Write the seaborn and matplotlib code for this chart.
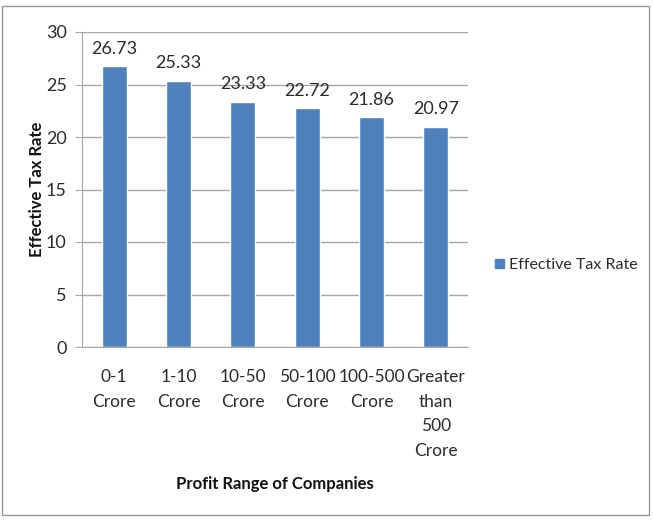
import matplotlib
matplotlib.use("Agg")
import matplotlib.pyplot as plt
import seaborn as sns
import pandas as pd
from matplotlib.patches import Rectangle, Patch

# data
categories = ["0-1\nCrore", "1-10\nCrore", "10-50\nCrore", "50-100\nCrore",
              "100-500\nCrore", "Greater\nthan\n500\nCrore"]
tax_rate = [26.73, 25.33, 23.33, 22.72, 21.86, 20.97]
series_name = "Effective Tax Rate"
y_ticks = [0, 5, 10, 15, 20, 25, 30]

df = pd.DataFrame({"range": categories, "rate": tax_rate})

sns.set_style("white")
plt.rcParams["font.family"] = ["Lato", "DejaVu Sans"]

bar_color = "#4F81BD"
grid_color = "#A6A6A6"
text_color = "#2B2B2B"

fig = plt.figure(figsize=(6.53, 5.21), dpi=100)
ax = fig.add_axes([82 / 653, 1 - 347 / 521, (468 - 82) / 653, (347 - 32) / 521])

sns.barplot(data=df, x="range", y="rate", color=bar_color, width=0.39,
            saturation=1, ax=ax)

ax.set_xlim(-0.5, len(categories) - 0.5)
ax.set_ylim(0, 30)
ax.set_yticks(y_ticks)
ax.yaxis.grid(True, color=grid_color, linewidth=1)
ax.set_axisbelow(True)
for side in ["top", "right"]:
    ax.spines[side].set_visible(False)
ax.spines["left"].set_color(grid_color)
ax.spines["bottom"].set_color(grid_color)
ax.tick_params(axis="y", length=5, color=grid_color, labelsize=13,
               labelcolor=text_color, pad=6, left=True)
ax.tick_params(axis="x", length=0, labelsize=12.5, labelcolor=text_color, pad=16)
for lbl in ax.get_xticklabels():
    lbl.set_linespacing(1.65)
    lbl.set_verticalalignment("top")

for i, v in enumerate(tax_rate):
    ax.annotate(f"{v:.2f}", (i, v), xytext=(0, 7), textcoords="offset points",
                ha="center", va="bottom", fontsize=13, color=text_color)

ax.set_ylabel("Effective Tax Rate", fontsize=12, fontweight="bold",
              color="#111111")
ax.yaxis.set_label_coords(-(82 - 37) / 386, 0.5)
ax.set_xlabel("Profit Range of Companies", fontsize=12, fontweight="bold",
              color="#111111")
ax.xaxis.set_label_coords(0.5, -(484 - 347) / 315)
ax.xaxis.label.set_verticalalignment("center")
ax.yaxis.label.set_verticalalignment("center")

handles = [Patch(color=bar_color, label=series_name)]
fig.legend(handles=handles, loc="center left", bbox_to_anchor=(484 / 653, 1 - 265 / 521),
           frameon=False, fontsize=11.5, handlelength=0.55, handleheight=0.55,
           handletextpad=0.3, borderpad=0.2, labelcolor=text_color)

fig.patches.append(Rectangle((2 / 653, 6 / 521), 647 / 653, 509 / 521,
                             transform=fig.transFigure, fill=False,
                             edgecolor="#9A9A9A", linewidth=1))

fig.savefig("out.png", dpi=100)
